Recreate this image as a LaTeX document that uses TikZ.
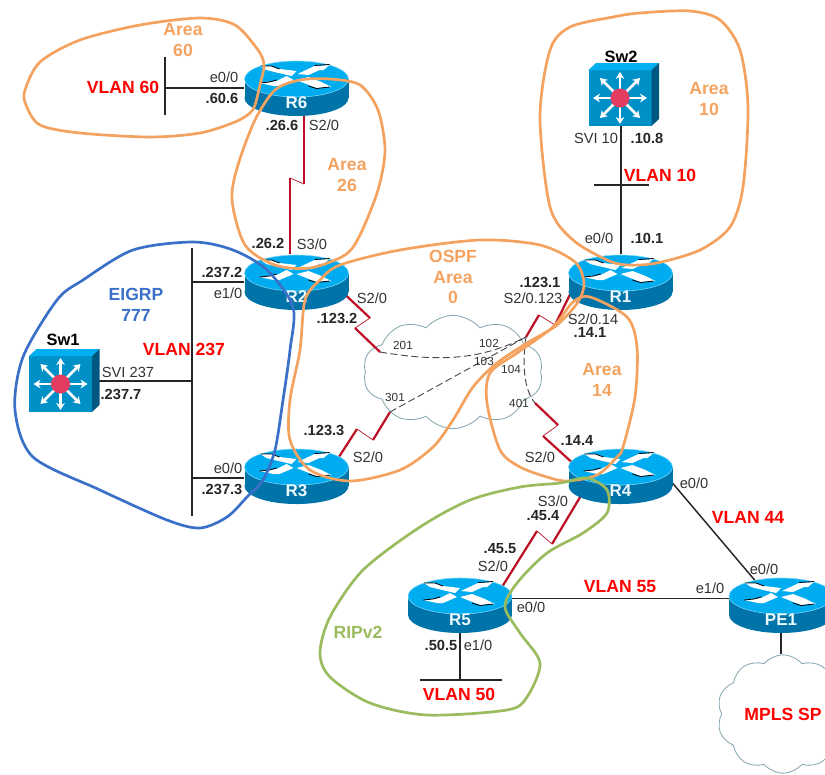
\documentclass[tikz,border=0pt]{standalone}
\usepackage{fontspec}
\setmainfont{Liberation Sans}
\usepackage{xcolor}
\usepackage{tikz}
\usetikzlibrary{arrows.meta, positioning, shapes.symbols}
\definecolor{routertop}{RGB}{0,172,240}
\definecolor{routerside}{RGB}{0,116,168}
\definecolor{routerrim}{RGB}{120,215,250}
\definecolor{swfront}{RGB}{0,144,200}
\definecolor{swtop}{RGB}{0,176,240}
\definecolor{swside}{RGB}{0,88,128}
\definecolor{swdot}{RGB}{226,60,96}
\definecolor{serialred}{RGB}{190,16,36}
\definecolor{cloudline}{RGB}{132,166,176}
\definecolor{areaorange}{RGB}{244,162,96}
\definecolor{areablue}{RGB}{58,112,200}
\definecolor{areagreen}{RGB}{155,187,95}
\definecolor{labelgray}{RGB}{50,50,50}

\begin{document}
\begin{tikzpicture}[x=0.03cm,y=-0.03cm,node distance=5.82cm]

	\tikzset{%
		routernode/.style = {inner sep=0, minimum width=3.12cm, minimum height=1.65cm}, % Router
		switchnode/.style = {inner sep=0, minimum width=1.88cm, minimum height=1.68cm}, % Switch
		bus/.style        = {line width=1.25pt, black!85},
		ether/.style      = {line width=1.25pt, black!85},
		serial/.style     = {line width=1.9pt, serialred, line join=miter},
		serialjog/.style  = {line width=0.6pt, serialred},
		underfrom/.style  = {shorten <=-12pt}, % Linie laeuft unter den Router
		underto/.style    = {shorten >=-12pt},
		frpvc/.style      = {line width=0.8pt, black!70, dash pattern=on 6pt off 3pt},
		wancloud/.style   = {draw=cloudline, fill=white, line width=0.7pt, cloud, cloud puffs=10, cloud puff arc=100, inner sep=0},
		blob/.style       = {line width=2.3pt},
		iflabel/.style    = {inner sep=0, text=labelgray, font=\fontsize{12.5}{14}\selectfont},
		ipaddr/.style     = {inner sep=0, text=black!85, font=\fontsize{12.5}{14}\selectfont\bfseries},
		vlanlabel/.style  = {inner sep=0, text=red, font=\fontsize{15}{17}\selectfont\bfseries},
		arealabel/.style  = {inner sep=0, align=center, font=\fontsize{15}{17.5}\selectfont\bfseries},
		dlci/.style       = {inner sep=0, text=labelgray, font=\fontsize{10}{12}\selectfont},
		devlabel/.style   = {inner sep=0, text=black, font=\fontsize{14}{16}\selectfont\bfseries},
		swarrow/.style    = {line width=2.2pt, white, -{Stealth[length=6pt,width=7.5pt]}},
		pics/router/.style = {code={
			\fill[routerside] (0,10) ellipse [x radius=52, y radius=18];
			\fill[routerside] (-52,-9) rectangle (52,10);
			\fill[routertop, draw=routerrim, line width=0.5pt] (0,-9) ellipse [x radius=52, y radius=18];
			% Pfeile oben
			\fill[white] (-36,-22) -- (-25,-22) -- (-17,-19) -- (0,-17) -- (-5,-12) -- (-22,-16) -- (-30,-18) -- cycle;
			\fill[white] (33,-23) -- (18,-22) -- (1,-14) -- (12,-13) -- (23,-18) -- (27,-18) -- cycle;
			\fill[white] (-37,-5) -- (-23,-2) -- (-17,-2) -- (-3,-8) -- (-10,-12) -- (-20,-7) -- cycle;
			\fill[white] (35,-1) -- (20,0) -- (0,-8) -- (12,-11) -- (25,-6) -- cycle;
			\draw[black, line width=0.7pt] (-36,-22) -- (-25,-22) -- (-17,-19);
			\draw[black, line width=0.7pt] (-37,-5) -- (-27,-6) -- (-20,-8);
			\draw[black, line width=0.7pt] (33,-1) -- (20,0.5) -- (12,-2);
			\draw[black, line width=0.7pt] (18,-22.5) -- (33,-23.5);
			\node[inner sep=0, text=white!92!routertop, font=\fontsize{14.5}{16}\selectfont\bfseries] (-txt) at (0,15) {#1};
		}},
		pics/l3switch/.style = {code={
			\fill[swfront] (-31.5,-28) rectangle (31.5,28);
			\fill[swtop] (-31.5,-28) -- (-24,-35) -- (39,-35) -- (31.5,-28) -- cycle;
			\fill[swside] (31.5,-28) -- (39,-35) -- (39,21) -- (31.5,28) -- cycle;
			\draw[swarrow] (0,0) -- (27,0);
			\draw[swarrow] (0,0) -- (-27,0);
			\draw[swarrow] (0,0) -- (0,26);
			\draw[swarrow] (0,0) -- (0,-26);
			\draw[swarrow] (0,0) -- (20,20);
			\draw[swarrow] (0,0) -- (-20,20);
			\draw[swarrow] (0,0) -- (20,-20);
			\draw[swarrow] (0,0) -- (-20,-20);
			\fill[swdot] (0,0) circle [radius=9.5];
		}}
	}

	\useasboundingbox (0,0) rectangle (825,774);

	% Router und Switches
	\node[routernode] (R6) at (296.5,88) {};
	\node[routernode, below of=R6] (R2) {};
	\node[routernode, below of=R2] (R3) {};
	\node[routernode, right of=R2, node distance=9.72cm] (R1) {};
	\node[routernode, below of=R1] (R4) {};
	\node[routernode] (R5) at (460,605) {};
	\node[routernode, right of=R5, node distance=9.63cm] (PE1) {};
	\node[switchnode] (Sw1) at (60.5,384) {};
	\node[switchnode] (Sw2) at (620,98) {};

	% Wolken
	\node[wancloud, minimum width=5.4cm, minimum height=3.4cm] (frcloud) at (453,372) {};
	\node[wancloud, minimum width=3.96cm, minimum height=3.55cm] (mpls) at (783,714) {};

	% Hilfspunkte
	\coordinate (vlan60top) at (165,57);
	\coordinate (vlan60mid) at (165,88);
	\coordinate (vlan60bot) at (165,115);
	\coordinate (vlan237top) at (192,248);
	\coordinate (vlan237sw) at (192,381);
	\coordinate (vlan237bot) at (192,516);
	\coordinate (vlan10left) at (594,185);
	\coordinate (vlan10mid) at (621,185);
	\coordinate (vlan10right) at (649,185);
	\coordinate (vlan50left) at (420,680);
	\coordinate (vlan50mid) at (460,680);
	\coordinate (vlan50right) at (502,680);
	\coordinate (jog26a) at (304,184);
	\coordinate (jog26b) at (290,178);
	\coordinate (jog2a) at (370,318);
	\coordinate (jog2b) at (355,328);
	\coordinate (pvc2) at (380,352);
	\coordinate (jog3a) at (373,440);
	\coordinate (jog3b) at (357,429);
	\coordinate (pvc3) at (390,412);
	\coordinate (jog1a) at (555,325);
	\coordinate (jog1b) at (539,315);
	\coordinate (pvc1) at (526,337);
	\coordinate (jog4a) at (558,425);
	\coordinate (jog4b) at (543,436);
	\coordinate (pvc4) at (535,403);
	\coordinate (jog5a) at (552,544);
	\coordinate (jog5b) at (537,531);

	% Ethernet
	\draw[bus] (vlan60top) -- (vlan60bot);
	\draw[ether] (vlan60mid) -- (vlan60mid -| R6.west);
	\draw[bus] (vlan237top) -- (vlan237bot);
	\draw[ether] (vlan237top |- R2) -- (R2);
	\draw[ether] (vlan237top |- 0,478) -- (R3.west |- 0,478);
	\draw[ether] (vlan237sw) -- (vlan237sw -| Sw1.east);
	\draw[bus] (vlan10left) -- (vlan10right);
	\draw[ether] (vlan10mid |- Sw2.south) -- (vlan10mid |- R1.north);
	\draw[bus] (vlan50left) -- (vlan50right);
	\draw[ether] (vlan50mid) -- (R5);
	\draw[ether] (R5.7) -- (R5.7 -| PE1.west);
	\draw[ether, underto] (R4.-8) -- (PE1.136);
	\draw[ether] (PE1) -- (PE1 |- mpls.north);

	% Serielle Links
	\draw[serial] (jog26a |- R6.south) -- (jog26a);
	\draw[serialjog] (jog26a) -- (jog26b);
	\draw[serial] (jog26b) -- (jog26b |- R2.north);
	\draw[serial, underfrom] (R2.-17) -- (jog2a);
	\draw[serialjog] (jog2a) -- (jog2b);
	\draw[serial] (jog2b) -- (pvc2);
	\draw[serial, underfrom] (R3.30) -- (jog3b);
	\draw[serialjog] (jog3b) -- (jog3a);
	\draw[serial] (jog3a) -- (pvc3);
	\draw[serial, underfrom] (R1.197) -- (jog1a);
	\draw[serialjog] (jog1a) -- (jog1b);
	\draw[serial] (jog1b) -- (pvc1);
	\draw[serial, underfrom] (R4.162) -- (jog4b);
	\draw[serialjog] (jog4b) -- (jog4a);
	\draw[serial] (jog4a) -- (pvc4);
	\draw[serial, underfrom] (R4.212) -- (jog5a);
	\draw[serialjog] (jog5a) -- (jog5b);
	\draw[serial, underto] (jog5b) -- (R5.30);

	% PVCs in der Wolke
	\draw[frpvc] (pvc2) .. controls (440,362) and (480,360) .. (pvc1);
	\draw[frpvc] (pvc3) -- (pvc1);
	\draw[frpvc] (pvc1) .. controls (522,365) and (524,390) .. (pvc4);

	% Symbole
	\pic (R6pic) at (R6) {router=R6};
	\pic (R2pic) at (R2) {router=R2};
	\pic (R3pic) at (R3) {router=R3};
	\pic (R1pic) at (R1) {router=R1};
	\pic (R4pic) at (R4) {router=R4};
	\pic (R5pic) at (R5) {router=R5};
	\pic (PE1pic) at (PE1) {router=PE1};
	\pic (Sw1pic) at (Sw1) {l3switch};
	\pic (Sw2pic) at (Sw2) {l3switch};

	% Bereiche
	\draw[blob, areaorange] plot[smooth cycle] coordinates {(250,113) (235,122) (200,133) (150,137) (80,133) (40,125) (26,105) (25,90) (40,62) (80,40) (140,25) (200,18) (235,25) (258,50) (264,65) (260,85) (255,105)};
	\draw[blob, areaorange] plot[smooth cycle] coordinates {(300,80) (330,79) (360,85) (378,110) (385,150) (378,190) (360,235) (345,255) (310,268) (275,265) (245,245) (232,200) (238,165) (255,120) (275,90)};
	\draw[blob, areaorange] plot[smooth cycle] coordinates {(640,13) (613,17) (570,27) (550,50) (540,117) (550,207) (573,240) (607,260) (627,265) (657,263) (700,250) (730,227) (743,187) (748,107) (740,50) (720,20) (690,11)};
	\draw[blob, areaorange] plot[smooth cycle] coordinates {(340,265) (400,250) (480,240) (540,245) (575,262) (584,283) (578,302) (557,325) (527,343) (497,363) (473,387) (453,420) (433,447) (400,470) (350,481) (310,470) (290,440) (290,400) (300,350) (305,300) (320,280)};
	\draw[blob, areaorange] plot[smooth cycle] coordinates {(590,297) (627,317) (637,347) (635,397) (623,447) (617,457) (597,475) (567,481) (547,477) (520,467) (500,450) (487,403) (490,373) (517,353) (553,327) (573,302)};
	\draw[blob, areablue] plot[smooth cycle] coordinates {(83,280) (133,250) (193,242) (233,250) (267,270) (293,307) (290,350) (283,400) (275,450) (263,480) (247,497) (227,517) (200,528) (167,520) (100,490) (33,457) (15,410) (23,357) (57,300)};
	\draw[blob, areagreen] plot[smooth cycle] coordinates {(560,483) (587,478) (607,490) (607,513) (583,533) (547,553) (517,583) (505,607) (520,633) (540,663) (527,697) (507,710) (427,715) (370,703) (330,677) (320,653) (330,617) (363,570) (420,527) (470,500) (520,487)};

	% Beschriftung Bereiche
	\node[arealabel, text=areaorange] (area60) at (183,40) {Area\\60};
	\node[arealabel, text=areaorange] (area26) at (347,175) {Area\\26};
	\node[arealabel, text=areaorange] (area10) at (709,99) {Area\\10};
	\node[arealabel, text=areaorange] (area0) at (453,277) {OSPF\\Area\\0};
	\node[arealabel, text=areaorange] (area14) at (602,380) {Area\\14};
	\node[arealabel, text=areablue] (eigrp) at (136,305) {EIGRP\\777};
	\node[arealabel, text=areagreen] (ripv2) at (358,632) {RIPv2};

	% VLANs
	\node[vlanlabel] (vlan60) at (123,87) {VLAN 60};
	\node[vlanlabel] (vlan237) at (184,349) {VLAN 237};
	\node[vlanlabel] (vlan10) at (660,175) {VLAN 10};
	\node[vlanlabel] (vlan44) at (748,517) {VLAN 44};
	\node[vlanlabel] (vlan55) at (620,587) {VLAN 55};
	\node[vlanlabel] (vlan50) at (459,694) {VLAN 50};
	\node[vlanlabel] (mplstext) at (mpls) {MPLS SP};

	% Switchnamen
	\node[devlabel] (Sw1name) at (63,340) {Sw1};
	\node[devlabel] (Sw2name) at (621,57) {Sw2};

	% Schnittstellen
	\node[iflabel] (r6e0) at (224,77) {e0/0};
	\node[iflabel] (r6s2) at (324,125) {S2/0};
	\node[iflabel] (r2s3) at (312,244) {S3/0};
	\node[iflabel] (r2e1) at (228,293) {e1/0};
	\node[iflabel] (r2s2) at (372,298) {S2/0};
	\node[iflabel] (r3e0) at (228,468) {e0/0};
	\node[iflabel] (r3s2) at (368,457) {S2/0};
	\node[iflabel] (sw1svi) at (128,372) {SVI 237};
	\node[iflabel] (sw2svi) at (596,138) {SVI 10};
	\node[iflabel] (r1e0) at (599,238) {e0/0};
	\node[iflabel] (r1s123) at (533,298) {S2/0.123};
	\node[iflabel] (r1s14) at (593,319) {S2/0.14};
	\node[iflabel] (r4s2) at (540,457) {S2/0};
	\node[iflabel] (r4s3) at (553,501) {S3/0};
	\node[iflabel] (r4e0) at (694,483) {e0/0};
	\node[iflabel] (r5s2) at (493,566) {S2/0};
	\node[iflabel] (r5e0) at (531,607) {e0/0};
	\node[iflabel] (r5e1) at (478,645) {e1/0};
	\node[iflabel] (pe1e1) at (710,588) {e1/0};
	\node[iflabel] (pe1e0) at (764,569) {e0/0};

	% Adressen
	\node[ipaddr] (ip606) at (222,98) {.60.6};
	\node[ipaddr] (ip266) at (282,125) {.26.6};
	\node[ipaddr] (ip262) at (268,243) {.26.2};
	\node[ipaddr] (ip2372) at (222,272) {.237.2};
	\node[ipaddr] (ip2377) at (121,394) {.237.7};
	\node[ipaddr] (ip2373) at (222,489) {.237.3};
	\node[ipaddr] (ip1232) at (337,318) {.123.2};
	\node[ipaddr] (ip1233) at (324,430) {.123.3};
	\node[ipaddr] (ip1231) at (540,282) {.123.1};
	\node[ipaddr] (ip141) at (590,332) {.14.1};
	\node[ipaddr] (ip144) at (577,440) {.14.4};
	\node[ipaddr] (ip108) at (647,138) {.10.8};
	\node[ipaddr] (ip101) at (647,238) {.10.1};
	\node[ipaddr] (ip454) at (543,516) {.45.4};
	\node[ipaddr] (ip455) at (500,549) {.45.5};
	\node[ipaddr] (ip505) at (441,645) {.50.5};

	% DLCIs
	\node[dlci] (dlci201) at (403,345) {201};
	\node[dlci] (dlci102) at (489,343) {102};
	\node[dlci] (dlci103) at (484,361) {103};
	\node[dlci] (dlci104) at (511,369) {104};
	\node[dlci] (dlci301) at (395,397) {301};
	\node[dlci] (dlci401) at (519,403) {401};
\end{tikzpicture}
\end{document}
